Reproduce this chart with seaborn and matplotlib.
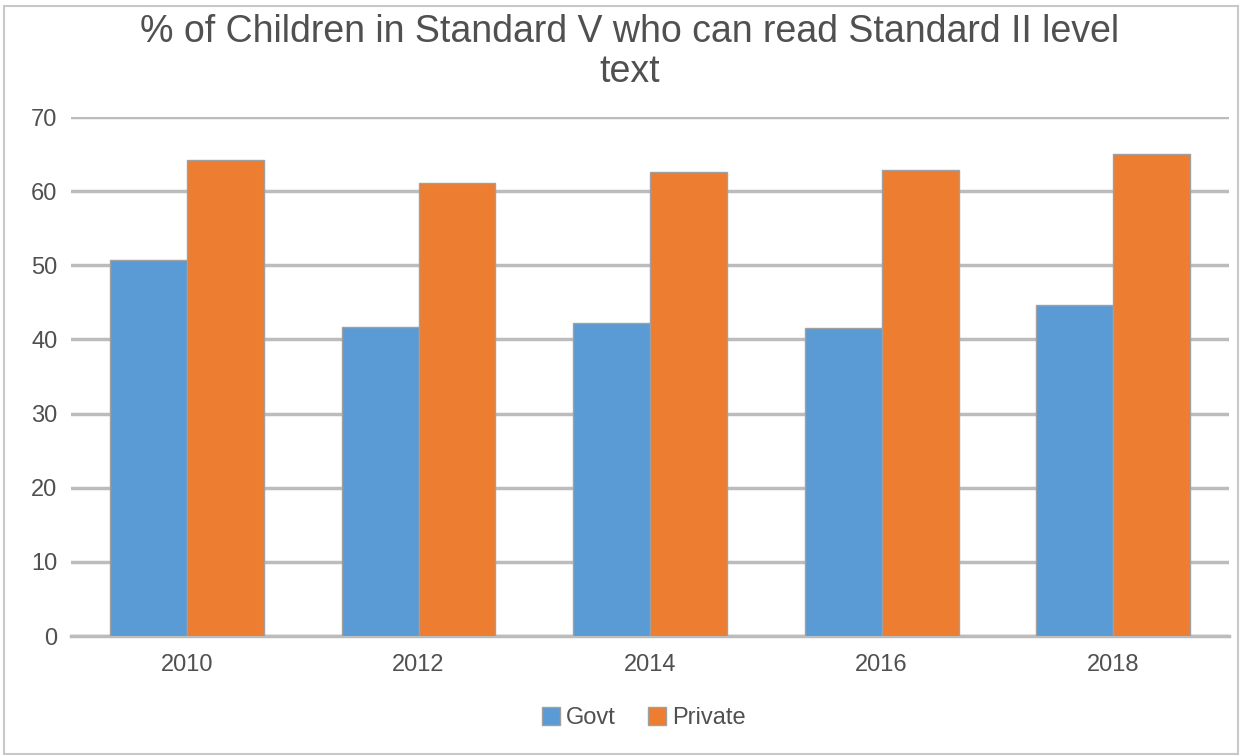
import numpy as np
import pandas as pd
import matplotlib
matplotlib.use('Agg')
import matplotlib.pyplot as plt
from matplotlib.patches import Rectangle
import seaborn as sns

# Data
years = ['2010', '2012', '2014', '2016', '2018']
govt = [50.7, 41.7, 42.2, 41.6, 44.7]
private = [64.2, 61.1, 62.6, 62.9, 65.0]

df = pd.DataFrame({'Year': years * 2,
                   'Value': govt + private,
                   'Type': ['Govt'] * len(years) + ['Private'] * len(years)})

sns.set_theme(style='white')
plt.rcParams['font.family'] = ['Liberation Sans', 'DejaVu Sans']

fig = plt.figure(figsize=(12.42, 7.56), dpi=100)
ax = fig.add_axes([0.0573, 0.1587, 0.9322, 0.6865])

sns.barplot(data=df, x='Year', y='Value', hue='Type',
            palette={'Govt': '#5B9BD5', 'Private': '#ED7D31'},
            width=0.665, gap=0, edgecolor='#a0a0a0', linewidth=1,
            saturation=1, ax=ax, zorder=3)

ax.set_ylim(0, 70)
ax.set_yticks(range(0, 71, 10))
ax.yaxis.grid(True, color='#bcbcbc', linewidth=2.5, zorder=0)
ax.set_axisbelow(True)
for s in ['top', 'right', 'left']:
    ax.spines[s].set_visible(False)
ax.spines['bottom'].set_color('#bcbcbc')
ax.spines['bottom'].set_linewidth(2.5)
ax.set_xlabel('')
ax.set_ylabel('')
ax.tick_params(axis='both', length=0, labelsize=17, colors='#505050')
ax.tick_params(axis='y', pad=10)
ax.tick_params(axis='x', pad=13)

fig.text(0.507, 0.981, '% of Children in Standard V who can read Standard II level\ntext',
         ha='center', va='top', fontsize=27, color='#505050', linespacing=1.12)

ax.legend(loc='center', bbox_to_anchor=(0.5185, 0.05), bbox_transform=fig.transFigure,
          ncol=2, frameon=False, fontsize=17, handlelength=0.76, handleheight=0.76,
          handletextpad=0.25, columnspacing=1.35, labelcolor='#505050')

fig.patches.append(Rectangle((0.003, 0.002), 0.994, 0.99, transform=fig.transFigure,
                             fill=False, edgecolor='#c8c8c8', linewidth=1.5))

fig.savefig('out.png', dpi=100)
